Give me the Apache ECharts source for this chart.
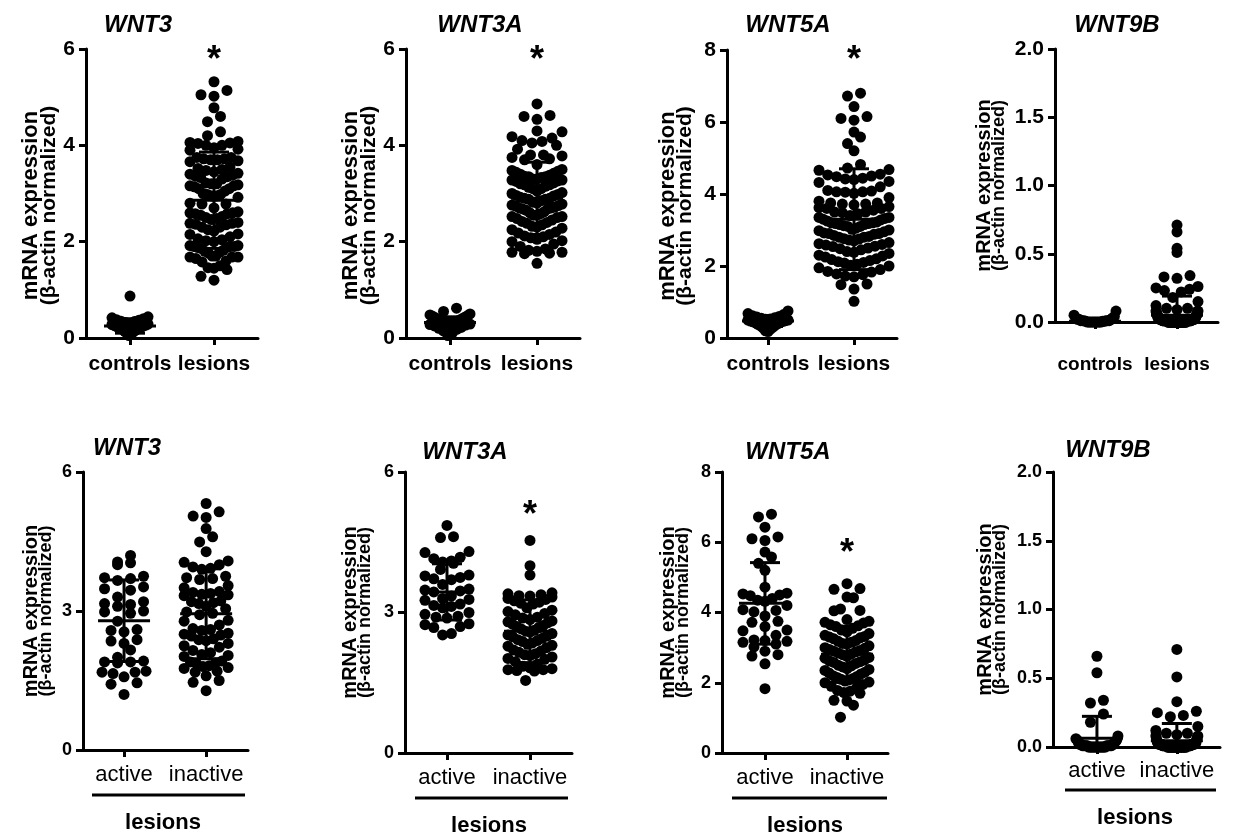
<!DOCTYPE html>
<html><head><meta charset="utf-8">
<script src="https://cdn.jsdelivr.net/npm/echarts@6/dist/echarts.min.js"></script>
<style>html,body{margin:0;padding:0;background:#fff}#c{width:1238px;height:836px}</style>
</head><body><div id="c"></div>
<script>
// ---------- DATA ----------
const genes = ['WNT3', 'WNT3A', 'WNT5A', 'WNT9B'];
const catsRow1 = ['controls', 'lesions'];
const catsRow2 = ['active', 'inactive'];
const yMaxes = [6, 6, 8, 2];
const yStepRow1 = [2, 2, 2, 0.5];
const yStepRow2 = [3, 3, 2, 0.5];

const wnt3_controls = [0.87, 0.44, 0.42, 0.4, 0.38, 0.37, 0.35, 0.34, 0.32, 0.3, 0.29, 0.28, 0.27, 0.26, 0.25, 0.24, 0.23, 0.22, 0.21, 0.2, 0.19, 0.18, 0.16, 0.14, 0.12, 0.1, 0.08, 0.05];
const wnt3_active = [4.2, 4.06, 4.04, 4.0, 3.75, 3.72, 3.7, 3.66, 3.52, 3.48, 3.45, 3.3, 3.2, 3.16, 3.14, 3.1, 3.0, 2.98, 2.95, 2.78, 2.6, 2.58, 2.55, 2.38, 2.35, 2.3, 2.16, 2.0, 1.92, 1.9, 1.9, 1.88, 1.7, 1.68, 1.68, 1.65, 1.58, 1.45, 1.42, 1.2];
const wnt3_inactive = [5.32, 5.14, 5.05, 5.02, 4.78, 4.6, 4.49, 4.28, 4.08, 4.05, 4.0, 3.95, 3.92, 3.9, 3.75, 3.72, 3.7, 3.68, 3.55, 3.5, 3.42, 3.4, 3.38, 3.36, 3.35, 3.33, 3.22, 3.2, 3.18, 3.16, 3.1, 3.05, 2.98, 2.95, 2.92, 2.8, 2.78, 2.7, 2.62, 2.6, 2.58, 2.52, 2.5, 2.48, 2.46, 2.4, 2.38, 2.36, 2.3, 2.25, 2.22, 2.15, 2.1, 2.06, 2.04, 2.02, 1.92, 1.9, 1.88, 1.86, 1.82, 1.8, 1.78, 1.76, 1.7, 1.68, 1.6, 1.5, 1.46, 1.28];

const wnt3a_controls = [0.62, 0.55, 0.5, 0.48, 0.46, 0.45, 0.43, 0.42, 0.4, 0.38, 0.37, 0.36, 0.35, 0.34, 0.33, 0.32, 0.31, 0.3, 0.29, 0.28, 0.27, 0.25, 0.22, 0.2, 0.18, 0.15, 0.1, 0.05];
const wnt3a_active = [4.86, 4.62, 4.6, 4.3, 4.28, 4.18, 4.15, 4.1, 4.08, 4.05, 3.92, 3.8, 3.78, 3.75, 3.72, 3.7, 3.6, 3.5, 3.48, 3.46, 3.44, 3.35, 3.3, 3.28, 3.26, 3.18, 3.15, 3.13, 3.1, 3.0, 2.96, 2.92, 2.9, 2.88, 2.76, 2.74, 2.7, 2.68, 2.55, 2.52];
const wnt3a_inactive = [4.54, 4.0, 3.8, 3.42, 3.4, 3.38, 3.36, 3.35, 3.33, 3.3, 3.28, 3.25, 3.22, 3.2, 3.18, 3.1, 3.05, 3.02, 2.98, 2.95, 2.9, 2.88, 2.85, 2.82, 2.8, 2.78, 2.75, 2.72, 2.7, 2.68, 2.65, 2.62, 2.6, 2.58, 2.55, 2.52, 2.5, 2.48, 2.45, 2.42, 2.4, 2.38, 2.35, 2.32, 2.3, 2.28, 2.25, 2.2, 2.18, 2.15, 2.12, 2.1, 2.08, 2.05, 2.02, 2.0, 1.95, 1.9, 1.85, 1.82, 1.8, 1.78, 1.78, 1.76, 1.75, 1.55];

const wnt5a_controls = [0.75, 0.68, 0.65, 0.62, 0.6, 0.58, 0.56, 0.55, 0.53, 0.52, 0.5, 0.5, 0.48, 0.47, 0.46, 0.45, 0.44, 0.42, 0.4, 0.38, 0.36, 0.34, 0.3, 0.28, 0.25, 0.2, 0.18];
const wnt5a_active = [6.8, 6.72, 6.43, 6.15, 6.1, 6.05, 5.72, 5.58, 5.4, 5.2, 4.72, 4.55, 4.53, 4.5, 4.48, 4.4, 4.35, 4.32, 4.2, 4.08, 4.06, 4.02, 3.9, 3.75, 3.72, 3.6, 3.5, 3.48, 3.35, 3.22, 3.2, 3.18, 3.15, 3.1, 3.02, 2.9, 2.8, 2.76, 2.54, 1.83];
const wnt5a_inactive = [4.82, 4.68, 4.66, 4.44, 4.42, 4.1, 4.06, 4.05, 3.8, 3.75, 3.72, 3.7, 3.65, 3.62, 3.6, 3.55, 3.5, 3.45, 3.4, 3.35, 3.32, 3.3, 3.28, 3.25, 3.2, 3.18, 3.15, 3.12, 3.1, 3.05, 3.0, 2.98, 2.95, 2.92, 2.9, 2.88, 2.85, 2.82, 2.8, 2.75, 2.72, 2.7, 2.65, 2.62, 2.6, 2.58, 2.55, 2.5, 2.48, 2.45, 2.4, 2.38, 2.35, 2.3, 2.28, 2.25, 2.2, 2.18, 2.15, 2.12, 2.1, 2.08, 2.05, 2.02, 2.0, 1.95, 1.9, 1.85, 1.78, 1.76, 1.72, 1.7, 1.5, 1.48, 1.36, 1.02];

const wnt9b_controls = [0.08, 0.05, 0.04, 0.03, 0.03, 0.02, 0.02, 0.02, 0.01, 0.01, 0.01, 0.01, 0.01, 0.01, 0.005, 0.005, 0.005, 0, 0, 0, 0, 0, 0, 0, 0, 0];
const wnt9b_active = [0.66, 0.54, 0.34, 0.32, 0.24, 0.18, 0.08, 0.06, 0.05, 0.05, 0.04, 0.03, 0.03, 0.02, 0.02, 0.02, 0.01, 0.01, 0.01, 0.01, 0.01, 0.01, 0.01, 0.01, 0.01, 0.01, 0, 0, 0, 0, 0, 0, 0, 0, 0, 0, 0, 0, 0, 0];
const wnt9b_inactive = [0.71, 0.51, 0.33, 0.26, 0.25, 0.23, 0.22, 0.15, 0.12, 0.1, 0.1, 0.09, 0.08, 0.08, 0.07, 0.06, 0.05, 0.04, 0.03, 0.03, 0.03, 0.03, 0.03, 0.02, 0.02, 0.02, 0.02, 0.02, 0.02, 0.02, 0.02, 0.02, 0.02, 0.01, 0.01, 0.01, 0.01, 0.01, 0.01, 0.01, 0.01, 0.01, 0.01, 0.01, 0.01, 0.01, 0.01, 0.01, 0, 0, 0, 0, 0, 0, 0, 0, 0, 0, 0, 0, 0, 0, 0, 0, 0, 0, 0, 0, 0, 0, 0, 0, 0, 0, 0, 0, 0, 0];

// mean and SD
const mean_controls = [0.25, 0.32, 0.47, 0.005];
const sd_controls = [0.15, 0.12, 0.15, 0.015];
const mean_lesions = [2.86, 2.9, 3.3, 0.05];
const sd_lesions = [1.0, 0.75, 1.4, 0.14];
const mean_active = [2.79, 3.44, 4.26, 0.063];
const sd_active = [0.88, 0.6, 1.16, 0.16];
const mean_inactive = [2.94, 2.6, 2.81, 0.046];
const sd_inactive = [0.97, 0.67, 0.8, 0.125];
// significance asterisks (y value), null = none
const sig_row1 = [5.94, 5.94, 7.94, null];
const sig_row2 = [null, 5.25, 5.93, null];

const controls = [wnt3_controls, wnt3a_controls, wnt5a_controls, wnt9b_controls];
const actives = [wnt3_active, wnt3a_active, wnt5a_active, wnt9b_active];
const inactives = [wnt3_inactive, wnt3a_inactive, wnt5a_inactive, wnt9b_inactive];

// ---------- LAYOUT ----------
const FONT = '"Liberation Sans", Arial, sans-serif';
const layout = [
  {left:86, top:49, width:172, height:289, xMin:0.476, xMax:2.524, hw:[18,24], nameGap:26, nameFont:[22,21], nameShift:24, lblMargin:16, catFont:21, title:[138,25]},
  {left:406, top:49, width:174, height:289, xMin:0.494, xMax:2.494, hw:[20,25], nameGap:25, nameFont:[22,21], nameShift:24, lblMargin:16, catFont:21, title:[480,25]},
  {left:727, top:50, width:170, height:288, xMin:0.523, xMax:2.5, hw:[20,35], nameGap:33, nameFont:[22,21], nameShift:24, lblMargin:16, catFont:21, title:[788,25]},
  {left:1055, top:49, width:163, height:273, xMin:0.512, xMax:2.5, hw:[21,21], nameGap:49, nameFont:[20,18], nameShift:0, lblMargin:33, catFont:19, title:[1117,25]},
  {left:83, top:472, width:165, height:278, xMin:0.5, xMax:2.51, hw:[22,22], nameGap:30, nameFont:[20,18], nameShift:0, lblMargin:14, catFont:22, title:[127,448], under:[92,245,795], lesions:[163,823]},
  {left:405, top:472, width:167, height:281, xMin:0.494, xMax:2.506, hw:[22,22], nameGap:33, nameFont:[20,18], nameShift:0, lblMargin:14, catFont:22, title:[465,452], under:[415,568,798], lesions:[489,826]},
  {left:722, top:472, width:166, height:281, xMin:0.476, xMax:2.5, hw:[22,22], nameGap:32, nameFont:[20,18], nameShift:0, lblMargin:14, catFont:22, title:[788,452], under:[732,887,798], lesions:[805,826]},
  {left:1053, top:472, width:167, height:275, xMin:0.45, xMax:2.54, hw:[21,21], nameGap:46, nameFont:[20,18], nameShift:0, lblMargin:13, catFont:22, title:[1108,450], under:[1065,1216,790], lesions:[1135,818]}
];

// Prism-like column scatter: bin by value, spread each bin horizontally
function swarm(vals, cx, sx, sy, hw) {
  const binPx = 12, maxSp = 13;
  const s = vals.slice().sort((a, b) => a - b);
  const vmin = s[0];
  const bins = new Map();
  s.forEach(v => {
    const b = Math.floor((v - vmin) * sy / binPx + 1e-9);
    if (!bins.has(b)) bins.set(b, []);
    bins.get(b).push(v);
  });
  const out = [];
  bins.forEach(arr => {
    const n = arr.length;
    const sp = n > 1 ? Math.min(maxSp, 2 * hw / (n - 1)) : 0;
    const slots = [];
    for (let j = 0; j < n; j++) slots.push((j - (n - 1) / 2) * sp);
    slots.sort((a, b) => Math.abs(a) - Math.abs(b) || a - b);
    arr.forEach((v, i) => out.push([cx + slots[i] / sx, v]));
  });
  return out;
}

const grids = [], xAxes = [], yAxes = [], series = [], titles = [], graphics = [];

for (let p = 0; p < 8; p++) {
  const row = p < 4 ? 0 : 1;
  const g = p % 4;
  const L = layout[p];
  const yMax = yMaxes[g];
  const step = row === 0 ? yStepRow1[g] : yStepRow2[g];
  const cats = row === 0 ? catsRow1 : catsRow2;
  const groups = row === 0 ? [controls[g], actives[g].concat(inactives[g])] : [actives[g], inactives[g]];
  const means = row === 0 ? [mean_controls[g], mean_lesions[g]] : [mean_active[g], mean_inactive[g]];
  const sds = row === 0 ? [sd_controls[g], sd_lesions[g]] : [sd_active[g], sd_inactive[g]];
  const sig = row === 0 ? sig_row1[g] : sig_row2[g];
  const sx = L.width / (L.xMax - L.xMin);
  const sy = L.height / yMax;

  grids.push({left: L.left, top: L.top, width: L.width, height: L.height});
  const lineStyle = {color: '#000', width: 3};
  xAxes.push({
    type: 'value', gridIndex: p, min: L.xMin, max: L.xMax,
    axisLine: {show: true, onZero: false, lineStyle},
    axisTick: {show: true, customValues: [1, 2], length: 7, lineStyle},
    axisLabel: {show: true, customValues: [1, 2], margin: L.lblMargin,
      formatter: v => cats[Math.round(v) - 1],
      color: '#000', fontFamily: FONT, fontSize: L.catFont, fontWeight: row === 0 ? 'bold' : 'normal'},
    splitLine: {show: false}
  });
  const lh = L.nameFont[0] >= 22 ? [18, 17] : [16, 14];
  yAxes.push({
    type: 'value', gridIndex: p, min: 0, max: yMax, interval: step,
    axisLine: {show: true, lineStyle},
    axisTick: {show: true, length: 7, lineStyle},
    axisLabel: {color: '#000', fontFamily: FONT, fontSize: row === 0 ? 21 : 18, fontWeight: 'bold', margin: 11,
      formatter: v => (g === 3 ? v.toFixed(1) : String(v))},
    splitLine: {show: false},
    name: '{a|mRNA expression}\n{b|(β-actin normalized)}',
    nameLocation: 'middle', nameRotate: 90, nameGap: L.nameGap,
    nameTextStyle: {
      padding: [0, L.nameShift, 0, 0],
      rich: {
        a: {fontFamily: FONT, fontSize: L.nameFont[0], fontWeight: 'bold', color: '#000', lineHeight: lh[0]},
        b: {fontFamily: FONT, fontSize: L.nameFont[1], fontWeight: 'bold', color: '#000', lineHeight: lh[1]}
      }
    }
  });

  groups.forEach((vals, k) => {
    series.push({
      type: 'scatter', xAxisIndex: p, yAxisIndex: p, silent: true, z: 2,
      symbol: 'circle', symbolSize: 11, itemStyle: {color: '#000', opacity: 1},
      data: swarm(vals, k + 1, sx, sy, L.hw[k])
    });
  });

  series.push({
    type: 'custom', xAxisIndex: p, yAxisIndex: p, silent: true, z: 3,
    encode: {x: 0, y: 1},
    data: [[1, means[0], sds[0]], [2, means[1], sds[1]]],
    renderItem: (params, api) => {
      const x = api.value(0), m = api.value(1), s = api.value(2);
      const c = api.coord([x, m]);
      const hi = api.coord([x, m + s]);
      const loV = m - s;
      const lo = api.coord([x, Math.max(loV, 0)]);
      const W = 26, C = 15;
      const st = {stroke: '#000', lineWidth: 3};
      const ch = [
        {type: 'line', shape: {x1: c[0] - W, y1: c[1], x2: c[0] + W, y2: c[1]}, style: st},
        {type: 'line', shape: {x1: hi[0], y1: hi[1], x2: lo[0], y2: lo[1]}, style: st},
        {type: 'line', shape: {x1: hi[0] - C, y1: hi[1], x2: hi[0] + C, y2: hi[1]}, style: st}
      ];
      if (loV > 0) ch.push({type: 'line', shape: {x1: lo[0] - C, y1: lo[1], x2: lo[0] + C, y2: lo[1]}, style: st});
      return {type: 'group', children: ch};
    }
  });

  if (sig != null) {
    series.push({
      type: 'scatter', xAxisIndex: p, yAxisIndex: p, silent: true, z: 4,
      symbol: 'circle', symbolSize: 0, itemStyle: {color: 'rgba(0,0,0,0)', opacity: 1},
      data: [[2, sig]],
      label: {show: true, position: 'inside', formatter: '*', color: '#000', opacity: 1,
        textBorderWidth: 0, fontFamily: FONT, fontSize: 36, fontWeight: 'bold', offset: [0, 9]}
    });
  }

  titles.push({
    text: genes[g], left: L.title[0], top: L.title[1], padding: 0,
    textAlign: 'center', textVerticalAlign: 'middle',
    textStyle: {fontFamily: FONT, fontSize: 24, fontWeight: 'bold', fontStyle: 'italic', color: '#000'}
  });

  if (row === 1) {
    graphics.push({type: 'line', silent: true,
      shape: {x1: L.under[0], y1: L.under[2], x2: L.under[1], y2: L.under[2]},
      style: {stroke: '#000', lineWidth: 3}});
    graphics.push({type: 'text', silent: true,
      style: {text: 'lesions', x: L.lesions[0], y: L.lesions[1], textAlign: 'center', textVerticalAlign: 'middle',
        font: 'bold 22px ' + FONT, fill: '#000'}});
  }
}

const chart = echarts.init(document.getElementById('c'), null, {renderer: 'canvas'});
chart.setOption({
  animation: false,
  backgroundColor: '#fff',
  title: titles,
  grid: grids,
  xAxis: xAxes,
  yAxis: yAxes,
  series: series,
  graphic: graphics
});
</script>
</body></html>
